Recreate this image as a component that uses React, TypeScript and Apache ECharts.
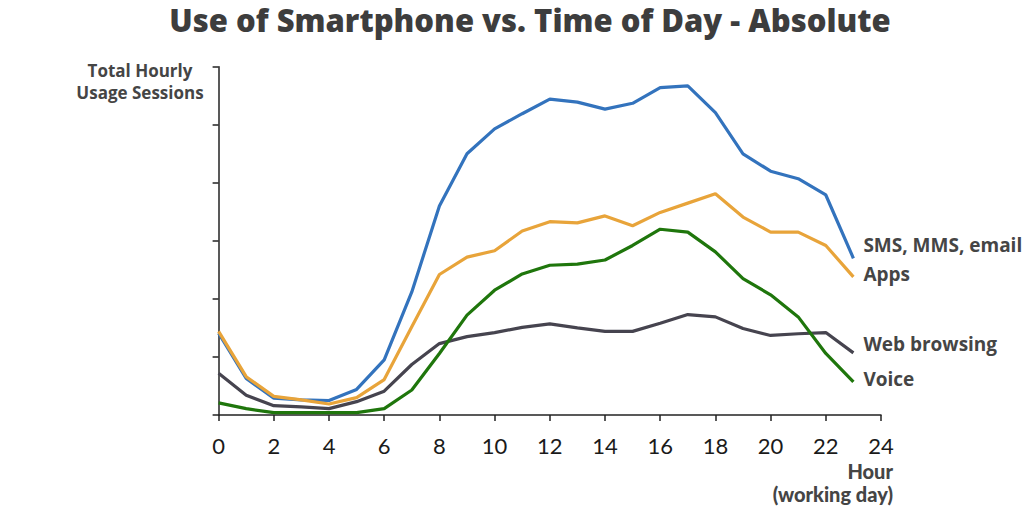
import React, { useEffect, useRef } from "react";
import * as echarts from "echarts";

const hours = [0, 1, 2, 3, 4, 5, 6, 7, 8, 9, 10, 11, 12, 13, 14, 15, 16, 17, 18, 19, 20, 21, 22, 23];
const smsValues = [1.41, 0.63, 0.29, 0.26, 0.25, 0.44, 0.95, 2.12, 3.6, 4.5, 4.93, 5.19, 5.44, 5.39, 5.27, 5.37, 5.64, 5.67, 5.21, 4.5, 4.2, 4.07, 3.79, 2.7];
const appsValues = [1.44, 0.66, 0.32, 0.26, 0.19, 0.3, 0.61, 1.52, 2.42, 2.72, 2.83, 3.17, 3.33, 3.31, 3.43, 3.26, 3.49, 3.65, 3.81, 3.41, 3.15, 3.15, 2.92, 2.38];
const webValues = [0.72, 0.34, 0.16, 0.14, 0.11, 0.23, 0.41, 0.87, 1.23, 1.35, 1.42, 1.51, 1.57, 1.5, 1.44, 1.44, 1.58, 1.73, 1.69, 1.49, 1.37, 1.4, 1.42, 1.07];
const voiceValues = [0.21, 0.11, 0.04, 0.04, 0.04, 0.04, 0.11, 0.43, 1.06, 1.72, 2.15, 2.43, 2.58, 2.6, 2.67, 2.92, 3.2, 3.15, 2.81, 2.35, 2.07, 1.69, 1.06, 0.57];

const seriesNames = ["SMS, MMS, email", "Apps", "Web browsing", "Voice"];
const titleText = "Use of Smartphone vs. Time of Day - Absolute";
const yAxisTitle = "Total Hourly\nUsage Sessions";
const xAxisTitle = "Hour\n(working day)";

const BOLD_FONT = "'Open Sans', Lato, sans-serif";
const FONT = "Lato, 'Open Sans', sans-serif";
const TEXT_COLOR = "#454545";

export default function App() {
  const ref = useRef<HTMLDivElement>(null);
  useEffect(() => {
    if (!ref.current) return;
    const chart = echarts.init(ref.current, null, { renderer: "svg" });
    const mk = (name: string, values: number[], color: string, offsetY: number) => ({
      type: "line",
      name,
      data: hours.map((h, i) => [h, values[i]]),
      showSymbol: false,
      symbol: "none",
      lineStyle: { color, width: 3.2 },
      itemStyle: { color },
      endLabel: {
        show: true,
        formatter: name,
        offset: [2, offsetY],
        color: TEXT_COLOR,
        fontFamily: BOLD_FONT,
        fontWeight: "bold",
        fontSize: 19,
      },
    });
    const txt = (x: number, y: number, text: string, family: string, weight: number | string, size: number, lh: number, align: string) => ({
      type: "text",
      x,
      y,
      style: {
        text,
        fontFamily: family,
        fontWeight: weight,
        fontSize: size,
        lineHeight: lh,
        fill: TEXT_COLOR,
        align,
        verticalAlign: "middle",
      },
    });
    chart.setOption({
      animation: false,
      backgroundColor: "#ffffff",
      graphic: [
        {
          type: "text",
          x: 530,
          y: 20,
          style: {
            text: titleText,
            fontFamily: BOLD_FONT,
            fontWeight: 800,
            fontSize: 31,
            lineHeight: 33,
            fill: "#3d3d3d",
            align: "center",
            verticalAlign: "middle",
          },
        },
        txt(140, 81, yAxisTitle, BOLD_FONT, "bold", 17, 22, "center"),
        txt(893, 482.5, xAxisTitle, FONT, 900, 20, 23, "right"),
      ],
      grid: { left: 218.6, right: 143, top: 66.7, bottom: 97, containLabel: false },
      xAxis: {
        type: "value",
        min: 0,
        max: 24,
        interval: 2,
        splitLine: { show: false },
        axisLine: { show: true, lineStyle: { color: "#222", width: 1.5 } },
        axisTick: { show: true, length: 6, lineStyle: { color: "#222", width: 1.5 } },
        axisLabel: { fontFamily: FONT, fontSize: 22, color: "#1a1a1a", margin: 19 },
      },
      yAxis: {
        type: "value",
        min: 0,
        max: 6,
        interval: 1,
        splitLine: { show: false },
        axisLine: { show: true, lineStyle: { color: "#222", width: 1.5 } },
        axisTick: { show: true, length: 6, lineStyle: { color: "#222", width: 1.5 } },
        axisLabel: { show: false },
      },
      series: [
        mk(seriesNames[0], smsValues, "#3373bd", -13),
        mk(seriesNames[1], appsValues, "#e8a43a", -3),
        mk(seriesNames[2], webValues, "#46444f", -9),
        mk(seriesNames[3], voiceValues, "#1f760c", -3),
      ],
    });
    return () => chart.dispose();
  }, []);
  return (
    <div
      ref={ref}
      style={{ position: "fixed", left: 0, top: 0, width: 1024, height: 512 }}
    />
  );
}
